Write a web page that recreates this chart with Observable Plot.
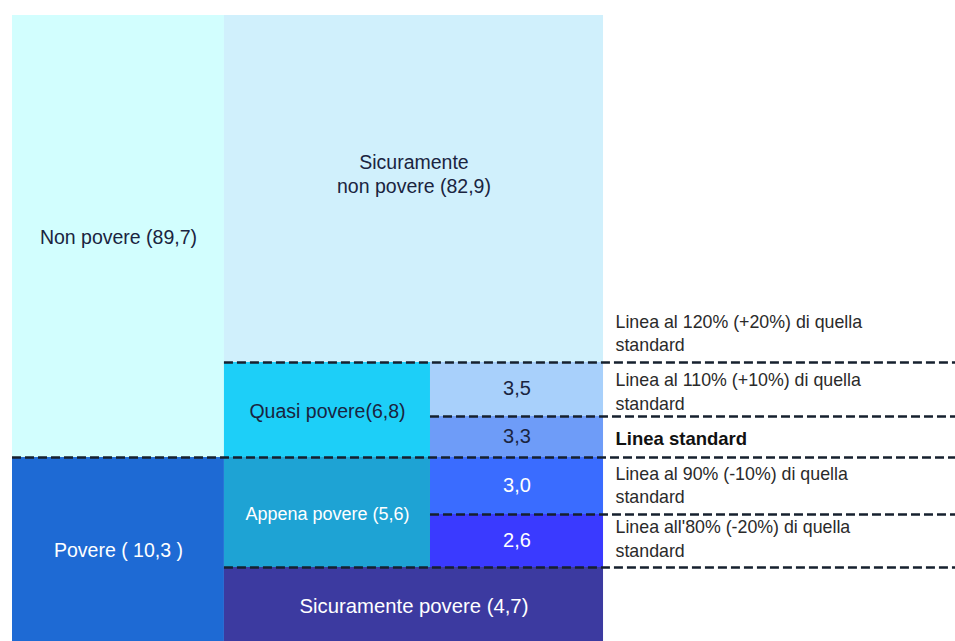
<!DOCTYPE html>
<html>
<head>
<meta charset="utf-8">
<script src="https://cdn.jsdelivr.net/npm/d3@7"></script>
<script src="https://cdn.jsdelivr.net/npm/@observablehq/plot@0.6"></script>
<style>
  html, body { margin: 0; padding: 0; background: #fff; }
  #chart svg { display: block; }
</style>
</head>
<body>
<div id="chart"></div>
<script>
// ---- Data (percent of households) ----
const groupLabels = ["Povere ( 10,3 )", "Non povere (89,7)"];
const groupValues = [10.3, 89.7];
const groupColors = ["#1e6ad4", "#d2fefe"];
const groupText = ["#ffffff", "#1a2440"];

const classLabels = ["Sicuramente povere (4,7)", "Appena povere (5,6)", "Quasi povere(6,8)", "Sicuramente\nnon povere (82,9)"];
const classValues = [4.7, 5.6, 6.8, 82.9];
const classColors = ["#3c3aa0", "#1ea3d4", "#1dcff8", "#d0f0fc"];
const classText = ["#ffffff", "#ffffff", "#1a2440", "#1a2440"];

const subLabels = ["2,6", "3,0", "3,3", "3,5"];
const subValues = [2.6, 3.0, 3.3, 3.5];
const subColors = ["#3a3aff", "#3a6cff", "#6e9cf8", "#a8d0fb"];
const subText = ["#ffffff", "#ffffff", "#1a2440", "#1a2440"];

const lineLabels = [
  "Linea all'80% (-20%) di quella\nstandard",
  "Linea al 90% (-10%) di quella\nstandard",
  "Linea standard",
  "Linea al 110% (+10%) di quella\nstandard",
  "Linea al 120% (+20%) di quella\nstandard"
];

// ---- Derived tables ----
const cum = arr => arr.reduce((a, v) => (a.push((a.length ? a[a.length - 1] : 0) + v), a), []);
const gEnd = cum(groupValues), cEnd = cum(classValues), sEnd = cum(subValues).map(v => v + classValues[0]);

// The diagram is not drawn to scale: a piecewise transform (0→0, 100→100) between boundaries
const yBreaks = [0, classValues[0], sEnd[0], sEnd[1], sEnd[2], sEnd[3], 100];
const yLayout = [0, 11.82, 20.29, 29.39, 35.94, 44.57, 100];
const tY = d3.scaleLinear().domain(yBreaks).range(yLayout);
const xBreaks = [0, 1, 2, 3, 4];
const xLayout = [0, 0.899, 1.773, 2.507, 4];
const tX = d3.scaleLinear().domain(xBreaks).range(xLayout);
const midY = (a, b) => tY.invert((tY(a) + tY(b)) / 2);
const midX = (a, b) => tX.invert((tX(a) + tX(b)) / 2);

// styling per cell: font size and vertical nudge
const cells = [];
groupValues.forEach((v, i) => cells.push({x1: 0, x2: 1, y1: gEnd[i] - v, y2: gEnd[i], label: groupLabels[i], fill: groupColors[i], color: groupText[i], dy: 0, size: 19.5}));
classValues.forEach((v, i) => {
  const wide = (i === 0 || i === classValues.length - 1);
  cells.push({x1: 1, x2: wide ? 3 : 2, y1: cEnd[i] - v, y2: cEnd[i], label: classLabels[i], fill: classColors[i], color: classText[i],
    dy: i === 3 ? -16 : 0, size: [20.3, 18, 19.5, 19.5][i]});
});
subValues.forEach((v, i) => cells.push({x1: 2, x2: 3, y1: sEnd[i] - v, y2: sEnd[i], label: subLabels[i], fill: subColors[i], color: subText[i], dy: -2, size: 20}));
cells.forEach(d => { d.mx = midX(d.x1, d.x2); d.my = midY(d.y1, d.y2); });

const lineStart = [1, 2, 0, 2, 1];
const lineNudge = [-11, -11, -13, -7, -11];
const lines = [classValues[0], sEnd[0], sEnd[1], sEnd[2], sEnd[3]]
  .map((y, i) => ({y, x1: lineStart[i], x2: 4, label: lineLabels[i], bold: i === 2, dy: lineNudge[i]}));

const font = "'Liberation Sans', Arial, Helvetica, sans-serif";

const cellText = (data, dy) => Plot.text(data, {x: "mx", y: "my", text: "label", fill: d => d.color, dy, fontSize: data[0].size, lineHeight: 1.23});

const chart = Plot.plot({
  width: 955,
  height: 641,
  margin: 0,
  style: {fontFamily: font, background: "#fff"},
  x: {transform: tX, domain: [0, 4], range: [12, 955], axis: null},
  y: {transform: tY, domain: [0, 100], range: [641, 15], axis: null},
  marks: [
    Plot.rect(cells, {x1: "x1", x2: "x2", y1: "y1", y2: "y2", fill: d => d.fill}),
    Plot.ruleY(lines, {y: "y", x1: "x1", x2: "x2", stroke: "#16202e", strokeWidth: 2.5, strokeDasharray: "9,4"}),
    ...cells.map(d => cellText([d], d.dy)),
    ...lines.map(d => Plot.text([d], {x: 3, y: "y", text: "label", textAnchor: "start", lineAnchor: "bottom", dx: 12, dy: d.dy,
      fill: d.bold ? "#111" : "#2a2a2a", fontSize: d.bold ? 18.5 : 17.8, fontWeight: d.bold ? "bold" : "normal", lineHeight: 1.3}))
  ]
});
document.getElementById("chart").append(chart);
</script>
</body>
</html>
